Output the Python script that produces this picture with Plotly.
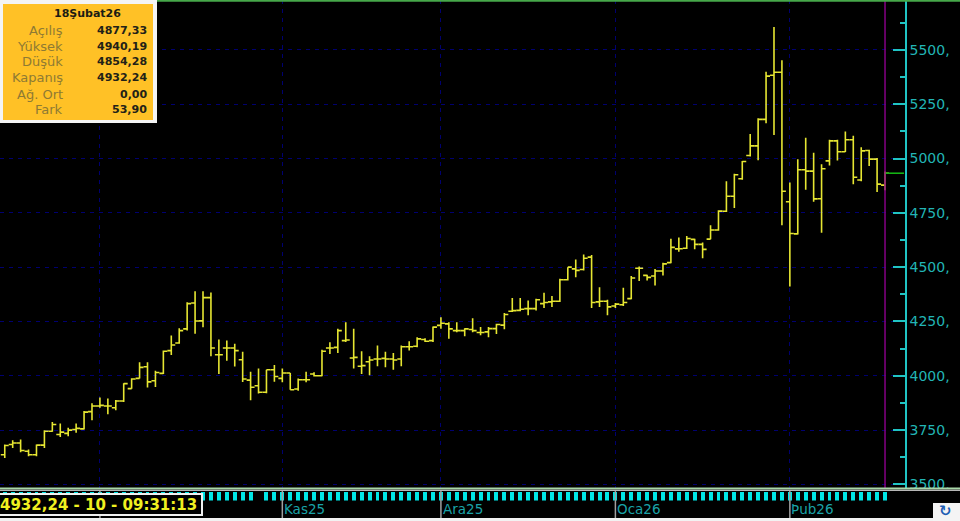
import plotly.graph_objects as go

W, H = 960, 521

opens = [3637,3684,3691,3653,3637,3681,3745,3730,3735,3753,3756,3835,3861,3861,3853,3884,3941,3988,4042,3977,
         4011,4116,4151,4216,4335,4253,4360,4097,4128,4128,4074,3980,3954,3924,4028,3988,4013,3939,3982,4008,
         4000,4128,4131,4162,4082,4044,4065,4077,4080,4077,4077,4134,4136,4167,4162,4232,4239,4208,4208,4213,
         4199,4202,4217,4233,4297,4301,4309,4309,4332,4340,4343,4442,4492,4489,4546,4340,4343,4321,4327,4355,
         4495,4462,4459,4482,4521,4584,4587,4628,4605,4629,4671,4757,4826,4907,5014,5058,5180,5383,5397,4801,
         4653,4948,4942,4815,4989,5081,5031,5086,4901,5037,4997,4877.33]
highs = [3684,3704,3707,3661,3684,3750,3787,3781,3761,3781,3838,3874,3900,3895,3889,3966,3989,4062,4062,4023,
         4116,4185,4219,4339,4389,4389,4383,4167,4162,4147,4111,4019,4034,4028,4050,4034,4013,3988,4019,4016,
         4120,4154,4216,4247,4216,4113,4090,4139,4111,4105,4139,4159,4178,4173,4227,4270,4247,4247,4219,4265,
         4225,4225,4240,4289,4358,4358,4347,4355,4382,4367,4447,4500,4535,4558,4556,4408,4350,4335,4405,4459,
         4503,4465,4492,4520,4631,4637,4643,4631,4613,4693,4762,4895,4930,4989,5113,5185,5399,5605,5452,4889,
         4997,5095,5027,4974,5086,5086,5124,5105,5052,5040,5002,4940.19]
lows = [3622,3668,3648,3630,3630,3668,3742,3718,3722,3738,3753,3796,3853,3823,3841,3880,3941,3988,3946,3949,
        4008,4096,4147,4208,4193,4224,4090,4008,4069,4043,3972,3888,3919,3920,3973,3970,3936,3931,3970,3997,
        3998,4100,4105,4155,4034,4008,4003,4044,4039,4028,4044,4116,4131,4155,4155,4216,4170,4201,4182,4201,
        4187,4178,4192,4214,4294,4297,4279,4301,4312,4317,4340,4439,4454,4485,4312,4317,4279,4312,4321,4352,
        4436,4439,4416,4462,4518,4571,4584,4582,4541,4628,4668,4754,4772,4902,5009,4992,5162,5108,4693,4411,
        4650,4856,4801,4658,4968,4991,5030,4882,4895,4966,4846,4854.28]
closes = [3679,3691,3656,3637,3681,3745,3776,3741,3750,3758,3833,3861,3864,3861,3884,3964,3985,4039,3972,4015,
          4113,4142,4208,4332,4252,4360,4128,4097,4128,4116,3985,3947,3924,4028,3997,4013,3936,3982,3982,4000,
          4113,4128,4208,4165,4085,4047,4073,4077,4077,4073,4134,4134,4170,4159,4224,4242,4216,4208,4216,4208,
          4199,4217,4236,4282,4300,4306,4309,4350,4337,4343,4442,4500,4485,4541,4337,4343,4317,4330,4337,4450,
          4495,4453,4482,4515,4591,4585,4632,4605,4582,4671,4758,4826,4925,4986,5058,5180,5379,5397,4849,4655,
          4948,4942,4814,4953,5081,5031,5086,4914,5035,4997,4882,4932.24]
bar_index = list(range(len(closes)))

y_ticks = [3500, 3750, 4000, 4250, 4500, 4750, 5000, 5250, 5500]
y_tick_text = ["3500,", "3750,", "4000,", "4250,", "4500,", "4750,", "5000,", "5250,", "5500,"]
month_positions = [12, 35, 55, 77, 99]
month_labels = ["Eki25", "Kas25", "Ara25", "Oca26", "Þub26"]
missing_strip_bar = [32]
strip_values = [None if i in missing_strip_bar else 1 for i in bar_index]

info_date = "18Şubat26"
info_labels = ["Açılış", "Yüksek", "Düşük", "Kapanış", "Ağ. Ort", "Fark"]
info_values = ["4877,33", "4940,19", "4854,28", "4932,24", "0,00", "53,90"]
status_text = "4932,24 - 10 - 09:31:13"

YELLOW = "#e6e632"
FONT = "DejaVu Sans"


def py(pix):
    return 1 - pix / H


def px(pix):
    return pix / W


fig = go.Figure()
fig.add_trace(go.Ohlc(
    x=bar_index, open=opens, high=highs, low=lows, close=closes,
    tickwidth=0.5,
    increasing=dict(line=dict(color=YELLOW, width=1.6)),
    decreasing=dict(line=dict(color=YELLOW, width=1.6)),
    hoverinfo="skip", showlegend=False,
))
fig.add_trace(go.Bar(
    x=bar_index, y=strip_values, yaxis="y2", width=0.5,
    marker=dict(color="#00e6e6", line=dict(width=0)),
    hoverinfo="skip", showlegend=False,
))

shapes = []


def rect(x0, y0, x1, y1, color):
    shapes.append(dict(type="rect", xref="paper", yref="paper", x0=px(x0), x1=px(x1),
                       y0=py(y0), y1=py(y1), fillcolor=color, line=dict(width=0), layer="above"))


def hline(x0, x1, y, color, width):
    shapes.append(dict(type="line", xref="paper", yref="paper", x0=px(x0), x1=px(x1),
                       y0=py(y), y1=py(y), line=dict(color=color, width=width), layer="above"))


# last close marker and cursor
shapes.append(dict(type="line", xref="x", yref="paper", x0=bar_index[-1], x1=bar_index[-1],
                   y0=py(488), y1=1, line=dict(color="#850085", width=1.5), layer="above"))
shapes.append(dict(type="line", xref="x", yref="y", x0=bar_index[-1] + 0.1, x1=bar_index[-1] + 2.4,
                   y0=closes[-1], y1=closes[-1], line=dict(color="#14b414", width=1.6), layer="above"))

# chart frame
hline(157, W, 0.8, "#46a84a", 2)
rect(905.8, 488, W, 503, "#000000")
hline(0, W, 488.5, "#a9d8a9", 2)
hline(0, W, 490.3, "#e4e4e4", 1)
rect(0, 518, W, H, "#f2f2f2")

# month separators in the date strip
for pos in month_positions:
    shapes.append(dict(type="line", xref="x", yref="paper", x0=pos, x1=pos,
                       y0=py(491), y1=py(518), line=dict(color="#a0a0a0", width=1.5), layer="above"))

# status box
rect(0, 493, 203, 516, "#f0f0f0")
rect(0, 495, 201, 514, "#000000")

# information box
rect(0, 0, 157, 123, "#f4f4f4")
rect(3, 4, 153, 120, "#ffc126")

# refresh button
rect(933, 503, W, H, "#f4f4f4")

annotations = []


def text(x, y, s, color, size, anchor="left", bold=False, xref="paper"):
    annotations.append(dict(
        x=px(x) if xref == "paper" else x, y=py(y), xref=xref, yref="paper", text=f"<b>{s}</b>" if bold else s,
        showarrow=False, xanchor=anchor, yanchor="middle",
        font=dict(family=FONT, size=size, color=color), borderpad=0, borderwidth=0,
    ))


text(87, 14, info_date, "#1c1c14", 11, "center", True)
for i, (lab, val) in enumerate(zip(info_labels, info_values)):
    y = 30 + 16 * i
    text(63, y, lab, "#8e7a34", 13, "right")
    text(147, y, val, "#222218", 11, "right", True)

text(0, 505, status_text, "#f0f020", 15, "left", True)
for pos, lab in zip(month_positions[1:], month_labels[1:]):
    annotations.append(dict(
        x=pos - 0.05, y=py(509), xref="x", yref="paper", text=lab, showarrow=False,
        xanchor="left", yanchor="middle", font=dict(family=FONT, size=13.5, color="#1aa3a8"),
    ))
text(945, 511, "↻", "#1f5fb4", 15, "center", True)

fig.update_layout(
    width=W, height=H, margin=dict(l=0, r=0, t=0, b=0, pad=0, autoexpand=False),
    paper_bgcolor="#000000", plot_bgcolor="#000000",
    hovermode=False, showlegend=False, bargap=0,
    font=dict(family=FONT),
    shapes=shapes, annotations=annotations,
    xaxis=dict(
        domain=[0, px(905)], range=[-0.6, 113.52], anchor="y", rangeslider=dict(visible=False), automargin=False,
        tickmode="array", tickvals=month_positions, ticktext=[""] * len(month_positions),
        showticklabels=False, ticks="", showgrid=True, gridcolor="#000070", griddash="4px,5px", gridwidth=1,
        zeroline=False, showline=False,
    ),
    yaxis=dict(
        domain=[py(488), 1], range=[3483.7, 5729.4], anchor="x", side="right", automargin=False,
        tickmode="array", tickvals=y_ticks, ticktext=y_tick_text,
        tickfont=dict(family=FONT, size=14, color="#22b5b5"),
        ticks="inside", ticklen=12, tickwidth=1.5, tickcolor="#20c4c4",
        minor=dict(ticks="inside", ticklen=5, tickwidth=1.5, tickcolor="#20c4c4", dtick=125, tick0=3500, showgrid=False),
        showgrid=True, gridcolor="#000070", griddash="4px,5px", gridwidth=1,
        showline=True, linecolor="#20c4c4", linewidth=1.5, zeroline=False,
    ),
    yaxis2=dict(
        domain=[py(500.5), py(491.5)], range=[0, 1], anchor="x", visible=False, showgrid=False, automargin=False,
    ),
)

fig.write_html("out.html", config={"displayModeBar": False},
               post_script="document.body.style.margin='0';document.body.style.overflow='hidden';document.body.style.background='#000';")
